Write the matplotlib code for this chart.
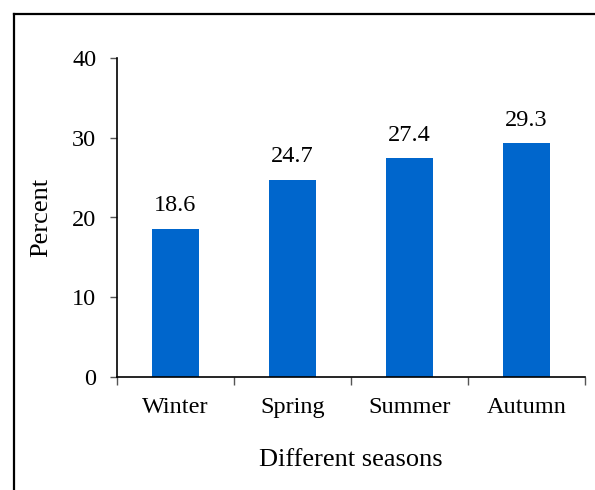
import matplotlib
matplotlib.use("Agg")
import matplotlib.pyplot as plt
from matplotlib.lines import Line2D

seasons = ["Winter", "Spring", "Summer", "Autumn"]
percent = [18.6, 24.7, 27.4, 29.3]
yticks = [0, 10, 20, 30, 40]

plt.rcParams["font.family"] = ["Liberation Serif", "DejaVu Serif"]

fig = plt.figure(figsize=(5.95, 4.9), dpi=100)
ax = fig.add_axes([117 / 595, 1 - 377 / 490, 468 / 595, 319 / 490])

x = range(len(seasons))
ax.bar(x, percent, width=0.4, color="#0066CC")
for xi, v in zip(x, percent):
    ax.text(xi, v + 2.9, f"{v}", ha="center", va="center", fontsize=17.5)

ax.set_xlim(-0.5, len(seasons) - 0.5)
ax.set_ylim(0, 40)
ax.set_yticks(yticks)
ax.set_yticklabels([str(t) for t in yticks], fontsize=17.5)
ax.set_xticks([i + 0.5 for i in range(-1, len(seasons))])
ax.set_xticklabels([])
ax.set_xticks(list(x), minor=True)
ax.set_xticklabels(seasons, minor=True, fontsize=17.5)
ax.tick_params(axis="x", which="minor", length=0, pad=14.5)
ax.tick_params(axis="x", which="major", length=6, color="#555555", width=1)
ax.tick_params(axis="y", length=5, color="#555555", width=1, pad=10)

for s in ["top", "right"]:
    ax.spines[s].set_visible(False)
for s in ["left", "bottom"]:
    ax.spines[s].set_linewidth(1.2)

ax.set_xlabel("Different seasons", fontsize=19, labelpad=22)
ax.set_ylabel("Percent", fontsize=19, labelpad=14)

# outer frame (only top and left visible in the crop)
fx, fy = 13.5 / 595, 1 - 14.5 / 490
fig.add_artist(Line2D([fx, fx], [0, fy], color="black", lw=1.6, transform=fig.transFigure))
fig.add_artist(Line2D([fx, 1], [fy, fy], color="black", lw=1.6, transform=fig.transFigure))

fig.savefig("out.png", dpi=100)
